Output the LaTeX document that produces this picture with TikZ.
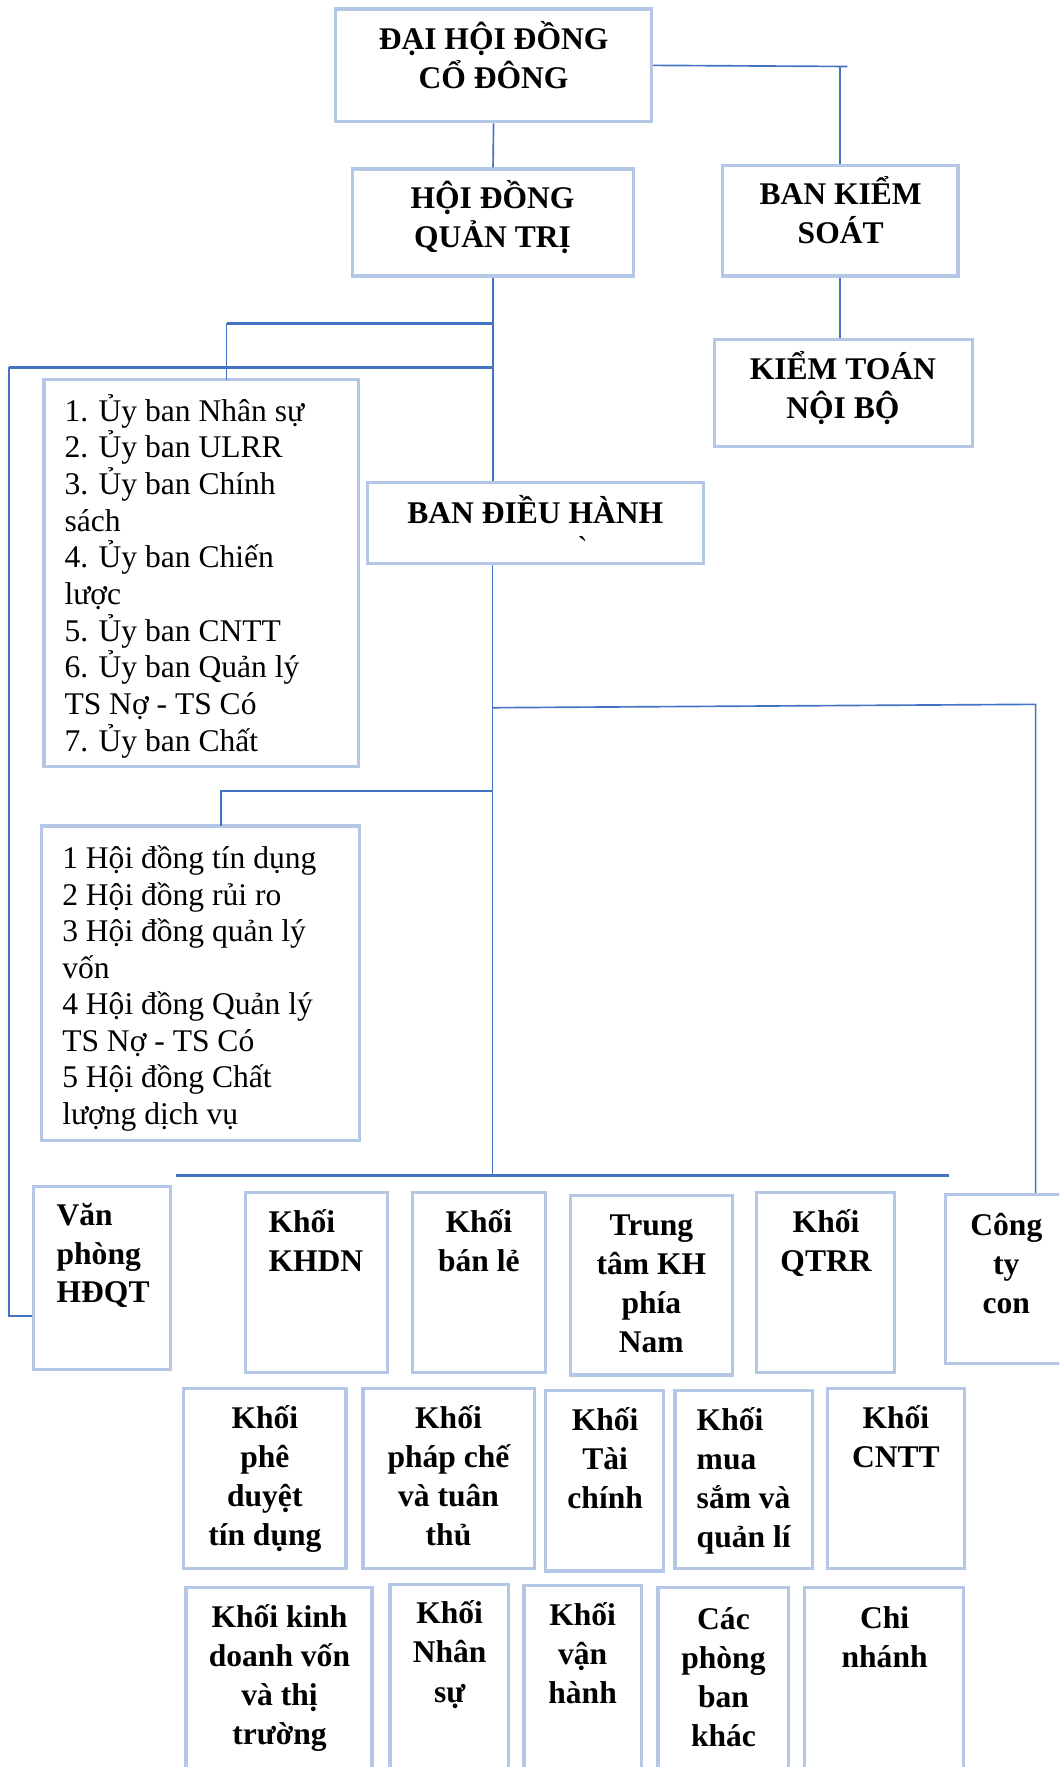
\documentclass[tikz,border=0pt]{standalone}
\usepackage{fontspec}
\setmainfont{Liberation Serif}
\newfontfamily\plainf{Liberation Serif}
\usetikzlibrary{fit}
\definecolor{boxc}{HTML}{B4C7E7}
\definecolor{linec}{HTML}{4472C4}
\newcommand{\ta}{\rule{0pt}{20pt}}
\newcommand{\tb}{\rule[-7pt]{0pt}{7pt}}
\lineskiplimit=-100pt
\lineskip=0pt
\tikzset{
  bx/.style={draw=boxc, line width=2.2pt, inner sep=0pt},
  conn/.style={draw=linec, line width=1.1pt},
  bus/.style={draw=linec, line width=1.5pt},
  hb/.style={font=\fontsize{21}{26}\selectfont\bfseries, inner sep=0pt, align=center},
  hbl/.style={font=\fontsize{21}{25.8}\selectfont\bfseries, inner sep=0pt, align=left, anchor=west},
  lstA/.style={font=\fontsize{21}{24.4}\selectfont, inner sep=0pt, align=left, anchor=west},
  lstB/.style={font=\fontsize{21}{24.3}\selectfont, inner sep=0pt, align=left, anchor=west},
}
\begin{document}
\begin{tikzpicture}[x=0.75pt,y=-0.75pt]
\useasboundingbox (0,0) rectangle (940,1568);
\fill[white] (0,0) rectangle (940,1568);
\clip (0,0) rectangle (940,1568);

% boxes
\node[bx, fit={(298,8) (578,108)}] (dhd) {};
\node[bx, fit={(313,150) (562,245)}] (hdqt) {};
\node[bx, fit={(641,147) (850,245)}] (bks) {};
\node[bx, fit={(634,301) (863,396)}] (ktnb) {};
\node[bx, fit={(39,337) (318,680)}] (ub) {};
\node[bx, fit={(326,428) (624,500)}] (bdh) {};
\node[bx, fit={(37,733) (319,1012)}] (hd) {};
% row 1
\node[bx, fit={(30,1053) (151,1215)}] (vp) {};
\node[bx, fit={(218,1058) (344,1218)}] (khdn) {};
\node[bx, fit={(366,1058) (484,1218)}] (bl) {};
\node[bx, fit={(506,1061) (650,1220)}] (tt) {};
\node[bx, fit={(671,1058) (794,1218)}] (qtrr) {};
\node[bx, fit={(839,1060) (952,1210)}] (ctc) {};
% row 2
\node[bx, fit={(163,1232) (307,1392)}] (pd) {};
\node[bx, fit={(322,1232) (474,1392)}] (pc) {};
\node[bx, fit={(484,1234) (589,1394)}] (tc) {};
\node[bx, fit={(599,1234) (721,1392)}] (ms) {};
\node[bx, fit={(734,1232) (856,1392)}] (cntt) {};
% row 3
\node[bx, fit={(165,1409) (330,1580)}] (kd) {};
\node[bx, fit={(346,1406) (451,1580)}] (ns) {};
\node[bx, fit={(465,1407) (569,1580)}] (vh) {};
\node[bx, fit={(584,1409) (700,1580)}] (cpb) {};
\node[bx, fit={(714,1409) (855,1580)}] (cn) {};

% texts
\node[hb] (tdhd) at (438,52.5) {\ta ĐẠI HỘI ĐỒNG\\CỔ ĐÔNG\tb};
\node[hb] (thdqt) at (437,193.5) {\ta HỘI ĐỒNG\\QUẢN TRỊ\tb};
\node[hb] (tbks) at (746,190) {\ta BAN KIỂM\\SOÁT\tb};
\node[hb] (tktnb) at (748,345) {\ta KIỂM TOÁN\\NỘI BỘ\tb};
\node[hb] (tbdh) at (475,456) {\ta BAN ĐIỀU HÀNH\tb};
\node[inner sep=0pt, font=\fontsize{21}{26}\selectfont\plainf] (tgr) at (517,486) {`};
\node[lstA] (tub) at (57,511.5) {\ta 1. Ủy ban Nhân sự\\2. Ủy ban ULRR\\3. Ủy ban Chính\\sách\\4. Ủy ban Chiến\\lược\\5. Ủy ban CNTT\\6. Ủy ban Quản lý\\TS Nợ - TS Có\\7. Ủy ban Chất\tb};
\node[lstB] (thd) at (55,875.5) {\ta 1 Hội đồng tín dụng\\2 Hội đồng rủi ro\\3 Hội đồng quản lý\\vốn\\4 Hội đồng Quản lý\\TS Nợ - TS Có\\5 Hội đồng Chất\\lượng dịch vụ\tb};

\node[hbl] (tvp) at (50,1113) {\ta Văn\\phòng\\HĐQT\tb};
\node[hbl] (tkhdn) at (238,1102) {\ta Khối\\KHDN\tb};
\node[hb] (tbl) at (425,1102) {\ta Khối\\bán lẻ\tb};
\node[hb] (ttt) at (578,1139.5) {\ta Trung\\tâm KH\\phía\\Nam\tb};
\node[hb] (tqtrr) at (733,1102) {\ta Khối\\QTRR\tb};
\node[hb] (tctc) at (893,1122) {\ta Công\\ty\\con\tb};

\node[hb] (tpd) at (235,1311) {\ta Khối\\phê\\duyệt\\tín dụng\tb};
\node[hb] (tpc) at (398,1311) {\ta Khối\\pháp chế\\và tuân\\thủ\tb};
\node[hb] (ttc) at (537,1295.5) {\ta Khối\\Tài\\chính\tb};
\node[hbl] (tms) at (618,1312.5) {\ta Khối\\mua\\sắm và\\quản lí\tb};
\node[hb] (tcntt) at (795,1276.5) {\ta Khối\\CNTT\tb};

\node[hb] (tkd) at (248,1487.5) {\ta Khối kinh\\doanh vốn\\và thị\\trường\tb};
\node[hb] (tns) at (399,1467) {\ta Khối\\Nhân\\sự\tb};
\node[hb] (tvh) at (517,1468.5) {\ta Khối\\vận\\hành\tb};
\node[hb] (tcpb) at (642,1489) {\ta Các\\phòng\\ban\\khác\tb};
\node[hb] (tcn) at (785,1454) {\ta Chi\\nhánh\tb};

% connectors
\coordinate (j1) at (752,59);
\draw[conn] (dhd.south) -- (hdqt.north);
\draw[conn] (dhd.east) -- (j1);
\draw[conn] (bks.north) -- (bks.north |- j1);
\draw[conn] (bks.south) -- (bks.south |- ktnb.north);
\draw[conn] (hdqt.south) -- (hdqt.south |- bdh.north);
\coordinate (c1) at (437,287);
\coordinate (u0) at (201,287);
\coordinate (u1) at (201,337);
\draw[bus] (c1) -- (u0);
\draw[conn] (u0) -- (u1);
\coordinate (c2) at (437,326);
\coordinate (l1) at (8,326);
\coordinate (l2) at (8,1168);
\draw[bus] (c2) -- (l1);
\draw[conn] (l1) -- (l2) -- (l2 -| vp.west);
\coordinate (c5) at (437,1043);
\draw[conn] (bdh.south -| c1) -- (c5);
\coordinate (c3) at (437,628);
\coordinate (r1) at (919,625);
\draw[conn] (c3) -- (r1) -- (r1 |- ctc.north);
\coordinate (c4) at (437,702);
\coordinate (h1) at (196,733);
\draw[conn] (c4) -| (h1);
\coordinate (b1) at (156,1043);
\coordinate (b2) at (842,1043);
\draw[bus] (b1) -- (b2);
\end{tikzpicture}
\end{document}
